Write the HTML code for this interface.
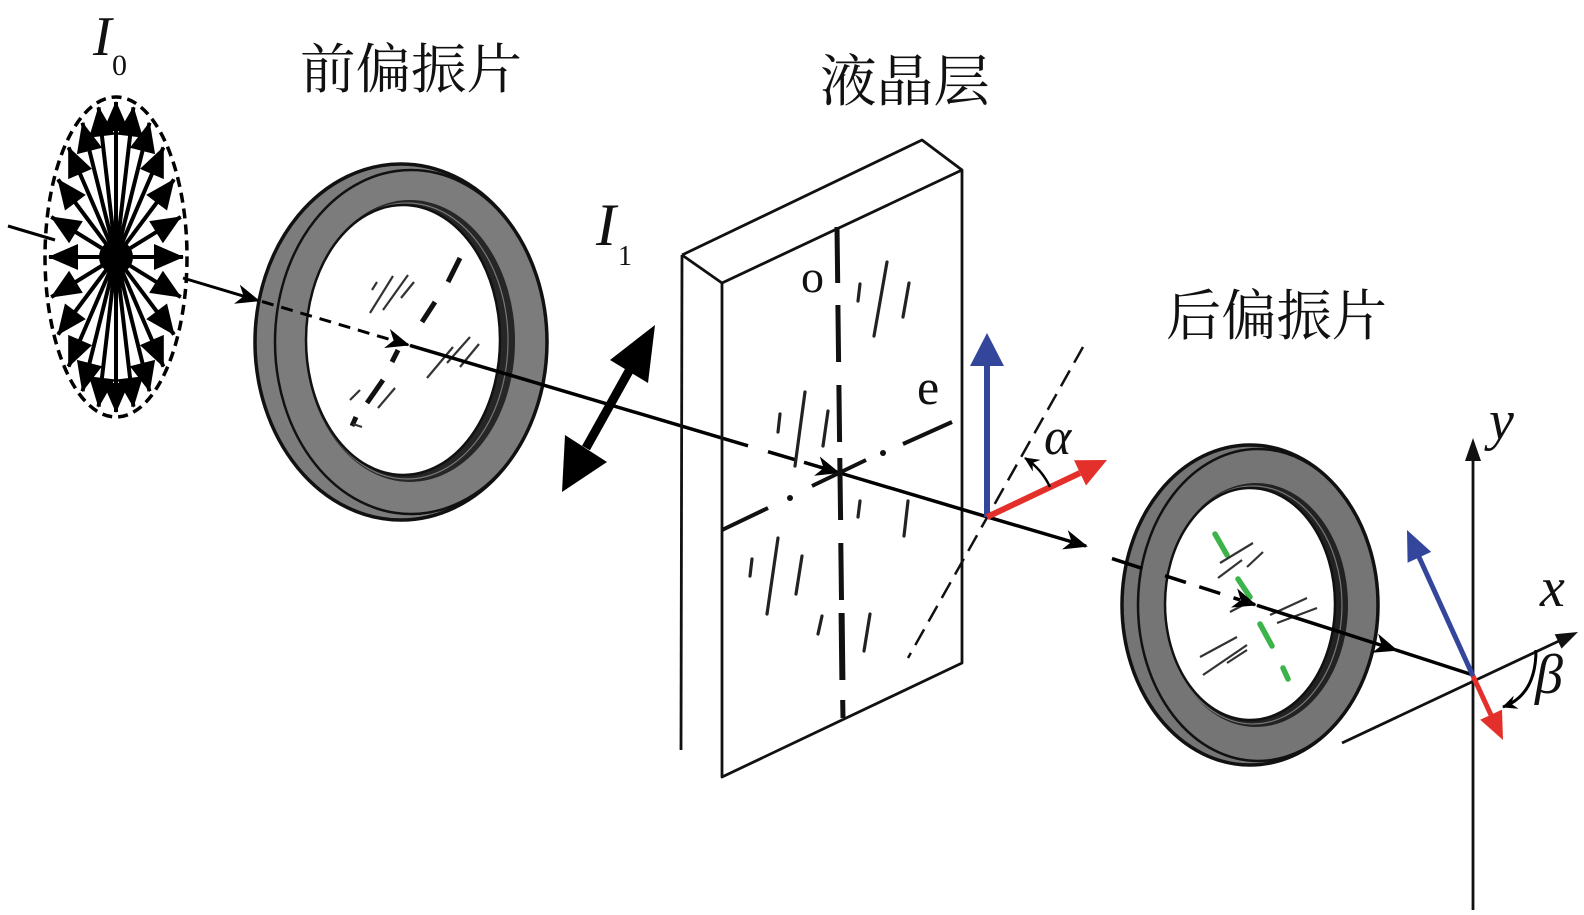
<!DOCTYPE html>
<html><head><meta charset="utf-8"><style>
html,body{margin:0;padding:0;background:#fff;}
svg{display:block;}
.cjk{font-family:"Liberation Serif","Noto Serif CJK SC","Noto Sans CJK SC",serif;fill:#111;}
.it{font-family:"Liberation Serif",serif;font-style:italic;fill:#111;}
.rm{font-family:"Liberation Serif",serif;fill:#111;}
.b{stroke:#000;stroke-width:4;marker-end:url(#bh);}
</style></head><body>
<svg width="1584" height="915" viewBox="0 0 1584 915" xmlns="http://www.w3.org/2000/svg">
<defs>
<marker id="bh" markerUnits="userSpaceOnUse" markerWidth="40" markerHeight="40" refX="0" refY="0" orient="auto" style="overflow:visible"><path d="M1,0 L-29,-13 L-29,13 Z" fill="#000"/></marker>
<marker id="ah" markerUnits="userSpaceOnUse" markerWidth="40" markerHeight="40" refX="0" refY="0" orient="auto" style="overflow:visible"><path d="M2,0 L-22,-10 L-15,0 L-22,10 Z" fill="#000"/></marker>
<marker id="sh" markerUnits="userSpaceOnUse" markerWidth="30" markerHeight="30" refX="0" refY="0" orient="auto" style="overflow:visible"><path d="M1,0 L-14,-7 L-9,0 L-14,7 Z" fill="#000"/></marker>
</defs>
<rect width="1584" height="915" fill="#fff"/>

<!-- Titles -->
<text class="cjk" x="300" y="88" font-size="54" textLength="222" lengthAdjust="spacingAndGlyphs">前偏振片</text>
<text class="cjk" x="820" y="101" font-size="56" textLength="170" lengthAdjust="spacingAndGlyphs">液晶层</text>
<text class="cjk" x="1166" y="335" font-size="55" textLength="221" lengthAdjust="spacingAndGlyphs">后偏振片</text>

<!-- I0 / I1 -->
<text class="it" x="93" y="55" font-size="56">I</text>
<text class="rm" x="112" y="75" font-size="30">0</text>
<text class="it" x="596" y="245" font-size="60">I</text>
<text class="rm" x="618" y="265" font-size="28">1</text>

<!-- incoming beam -->
<line x1="8" y1="226" x2="55" y2="240" stroke="#000" stroke-width="3"/>
<line x1="183" y1="278" x2="258" y2="300.5" stroke="#000" stroke-width="3" marker-end="url(#ah)"/>

<!-- Burst -->
<ellipse cx="116" cy="257" rx="71" ry="160" fill="none" stroke="#000" stroke-width="3.5" stroke-dasharray="10 6"/>
<g>
<line class="b" x1="116" y1="257" x2="183" y2="257"/>
<line class="b" x1="116" y1="257" x2="180.7" y2="297.1"/>
<line class="b" x1="116" y1="257" x2="174" y2="334.5"/>
<line class="b" x1="116" y1="257" x2="163.4" y2="366.6"/>
<line class="b" x1="116" y1="257" x2="149.5" y2="391.2"/>
<line class="b" x1="116" y1="257" x2="133.4" y2="406.7"/>
<line class="b" x1="116" y1="257" x2="116" y2="412"/>
<line class="b" x1="116" y1="257" x2="98.6" y2="406.7"/>
<line class="b" x1="116" y1="257" x2="82.5" y2="391.2"/>
<line class="b" x1="116" y1="257" x2="68.6" y2="366.6"/>
<line class="b" x1="116" y1="257" x2="58" y2="334.5"/>
<line class="b" x1="116" y1="257" x2="51.3" y2="297.1"/>
<line class="b" x1="116" y1="257" x2="49" y2="257"/>
<line class="b" x1="116" y1="257" x2="51.3" y2="216.9"/>
<line class="b" x1="116" y1="257" x2="58" y2="179.5"/>
<line class="b" x1="116" y1="257" x2="68.6" y2="147.4"/>
<line class="b" x1="116" y1="257" x2="82.5" y2="122.8"/>
<line class="b" x1="116" y1="257" x2="98.6" y2="107.3"/>
<line class="b" x1="116" y1="257" x2="116" y2="102"/>
<line class="b" x1="116" y1="257" x2="133.4" y2="107.3"/>
<line class="b" x1="116" y1="257" x2="149.5" y2="122.8"/>
<line class="b" x1="116" y1="257" x2="163.4" y2="147.4"/>
<line class="b" x1="116" y1="257" x2="174" y2="179.5"/>
<line class="b" x1="116" y1="257" x2="180.7" y2="216.9"/>
</g>
<circle cx="116" cy="257" r="17" fill="#000"/>

<!-- Front polarizer ring -->
<ellipse cx="401" cy="342" rx="146" ry="178" fill="#7c7c7c" stroke="#111" stroke-width="3.5"/>
<ellipse cx="411" cy="342" rx="136" ry="172" fill="none" stroke="#111" stroke-width="2.5"/>
<ellipse cx="410" cy="341" rx="105" ry="141" fill="#262626"/>
<ellipse cx="407" cy="341" rx="101" ry="138" fill="none" stroke="#777" stroke-width="1.2"/>
<ellipse cx="403" cy="340" rx="97" ry="135" fill="#fff" stroke="#111" stroke-width="2.5"/>

<!-- front polarizer interior: axis + slashes -->
<g stroke="#111" stroke-width="5" stroke-linecap="butt">
<line x1="460" y1="258" x2="448" y2="282"/>
<line x1="435" y1="302" x2="422" y2="322"/>
<line x1="398" y1="350" x2="392" y2="362"/>
<line x1="383" y1="380" x2="367" y2="403"/>
<line x1="356" y1="417" x2="352" y2="426"/>
</g>
<g stroke="#333" stroke-width="2.2">
<line x1="370" y1="313" x2="393" y2="276"/>
<line x1="383" y1="310" x2="408" y2="275"/>
<line x1="372" y1="290" x2="377" y2="282"/>
<line x1="401" y1="298" x2="414" y2="282"/>
<line x1="427" y1="378" x2="453" y2="347"/>
<line x1="447" y1="363" x2="470" y2="337"/>
<line x1="460" y1="367" x2="479" y2="344"/>
<line x1="350" y1="400" x2="360" y2="390"/>
<line x1="378" y1="408" x2="395" y2="388"/>
<line x1="353" y1="424" x2="362" y2="427"/>
</g>

<!-- beam through front polarizer (dashed) -->
<line x1="262" y1="301.5" x2="395" y2="341" stroke="#000" stroke-width="3" stroke-dasharray="12 8"/>
<line x1="396" y1="341.2" x2="408" y2="344.8" stroke="#000" stroke-width="3" marker-end="url(#ah)"/>
<!-- beam to LC -->
<line x1="410" y1="345.4" x2="748" y2="445.8" stroke="#000" stroke-width="3.5"/>

<!-- double arrow (linear polarization) -->
<line x1="586" y1="448" x2="629" y2="371" stroke="#000" stroke-width="9"/>
<polygon points="655,325 610,360 648,383" fill="#000"/>
<polygon points="562,492 565,435 607,462" fill="#000"/>

<!-- LC box -->
<g stroke="#111" stroke-width="2.8" fill="none" stroke-linejoin="round">
<line x1="682" y1="255" x2="681" y2="750"/>
<polyline points="682,255 922,140 962,170"/>
<line x1="682" y1="255" x2="722" y2="283"/>
<polygon points="722,283 962,170 962,663 722,777"/>
</g>

<!-- beam inside LC -->
<line x1="768" y1="451.7" x2="795" y2="459.7" stroke="#000" stroke-width="3.5"/>
<line x1="804" y1="462.3" x2="838" y2="472.4" stroke="#000" stroke-width="3.5" marker-end="url(#ah)"/>
<line x1="840" y1="473" x2="987" y2="516.8" stroke="#000" stroke-width="3.5"/>
<line x1="987" y1="516.8" x2="1086" y2="546" stroke="#000" stroke-width="3.5" marker-end="url(#ah)"/>

<!-- o axis (vertical) -->
<g stroke="#111" stroke-width="5">
<line x1="837" y1="227" x2="837.7" y2="283"/>
<line x1="837.9" y1="305" x2="838.6" y2="362"/>
<line x1="838.9" y1="385" x2="839.6" y2="442"/>
<line x1="839.8" y1="458" x2="840.6" y2="520"/>
<line x1="840.8" y1="543" x2="841.5" y2="600"/>
<line x1="841.6" y1="613" x2="842.4" y2="680" stroke-width="6"/>
<line x1="842.7" y1="700" x2="843" y2="718"/>
</g>
<!-- e axis -->
<g stroke="#111" stroke-width="4">
<line x1="722" y1="530" x2="768" y2="508"/>
<line x1="812" y1="486" x2="866" y2="460"/>
<line x1="903" y1="444" x2="952" y2="422"/>
</g>
<circle cx="790" cy="498" r="3" fill="#111"/>
<circle cx="883" cy="453" r="3" fill="#111"/>

<!-- LC molecules -->
<g stroke="#222" stroke-width="3.2" stroke-linecap="round">
<line x1="860" y1="284" x2="858" y2="301"/>
<line x1="887" y1="262" x2="874" y2="336"/>
<line x1="909" y1="283" x2="903" y2="317"/>
<line x1="805" y1="392" x2="795" y2="466"/>
<line x1="780" y1="414" x2="778" y2="432"/>
<line x1="828" y1="411" x2="823" y2="446"/>
<line x1="860" y1="501" x2="858" y2="517"/>
<line x1="908" y1="501" x2="904" y2="536"/>
<line x1="778" y1="538" x2="767" y2="614"/>
<line x1="752" y1="559" x2="750" y2="576"/>
<line x1="802" y1="556" x2="796" y2="594"/>
<line x1="822" y1="616" x2="818" y2="634"/>
<line x1="870" y1="614" x2="864" y2="651"/>
</g>

<text class="rm" x="801" y="292" font-size="46">o</text>
<text class="rm" x="917" y="404" font-size="50">e</text>

<!-- alpha dashed line -->
<line x1="1083" y1="347" x2="908" y2="658" stroke="#111" stroke-width="2.5" stroke-dasharray="18 9"/>

<!-- blue arrow 1 -->
<line x1="987" y1="517" x2="987" y2="362" stroke="#34469b" stroke-width="6"/>
<polygon points="987,333 970,366 1004,366" fill="#34469b"/>
<!-- red arrow 1 -->
<line x1="987" y1="517" x2="1080" y2="473" stroke="#e3302b" stroke-width="6"/>
<polygon points="1107,460 1086,485.5 1074,460.3" fill="#e3302b"/>
<!-- alpha arc -->
<path d="M1050,487 A70,70 0 0,0 1025,458" fill="none" stroke="#000" stroke-width="2.5" marker-end="url(#sh)"/>
<text class="it" x="1044" y="454" font-size="52">α</text>

<!-- Rear polarizer ring -->
<ellipse cx="1250" cy="605" rx="128" ry="160" fill="#757575" stroke="#111" stroke-width="3.5"/>
<ellipse cx="1258" cy="605" rx="120" ry="156" fill="none" stroke="#111" stroke-width="2.5"/>
<ellipse cx="1256" cy="605" rx="92" ry="122" fill="#222"/>
<ellipse cx="1253" cy="605" rx="89" ry="119" fill="none" stroke="#777" stroke-width="1.2"/>
<ellipse cx="1250" cy="604" rx="85" ry="116" fill="#fff" stroke="#111" stroke-width="2.5"/>

<!-- green axis -->
<g stroke="#3cb44a" stroke-width="5.5" stroke-linecap="round">
<line x1="1215" y1="534" x2="1227" y2="555"/>
<line x1="1238" y1="579" x2="1250" y2="597"/>
<line x1="1260" y1="624" x2="1272" y2="646"/>
<line x1="1283" y1="668" x2="1288" y2="679"/>
</g>
<!-- rear slashes -->
<g stroke="#333" stroke-width="2.2">
<line x1="1220" y1="563" x2="1253" y2="543"/>
<line x1="1218" y1="578" x2="1242" y2="560"/>
<line x1="1247" y1="567" x2="1263" y2="552"/>
<line x1="1230" y1="612" x2="1247" y2="603"/>
<line x1="1270" y1="615" x2="1307" y2="598"/>
<line x1="1277" y1="623" x2="1317" y2="608"/>
<line x1="1200" y1="657" x2="1237" y2="637"/>
<line x1="1203" y1="675" x2="1247" y2="645"/>
<line x1="1227" y1="663" x2="1247" y2="650"/>
</g>

<!-- beam 2 -->
<line x1="1112" y1="558.6" x2="1142" y2="568.3" stroke="#000" stroke-width="3.5"/>
<line x1="1165" y1="575.7" x2="1240" y2="599.9" stroke="#000" stroke-width="3.5" stroke-dasharray="22 14"/>
<line x1="1242" y1="600.5" x2="1255" y2="604.7" stroke="#000" stroke-width="3.5" marker-end="url(#ah)"/>
<line x1="1257" y1="605.3" x2="1396" y2="650" stroke="#000" stroke-width="3.5" marker-end="url(#ah)"/>
<line x1="1396" y1="650" x2="1473" y2="675" stroke="#000" stroke-width="3.5"/>

<!-- axes -->
<line x1="1473" y1="910" x2="1473" y2="456" stroke="#111" stroke-width="2.8"/>
<polygon points="1473,438 1465,461 1481,461" fill="#111"/>
<line x1="1342" y1="743" x2="1560" y2="640.5" stroke="#111" stroke-width="2.8"/>
<polygon points="1578,632 1561.5,648.6 1554.7,634.2" fill="#111"/>

<!-- blue arrow 2 -->
<line x1="1473" y1="676" x2="1419" y2="557" stroke="#34469b" stroke-width="5"/>
<polygon points="1407,530 1431.2,551.9 1407.6,562.7" fill="#34469b"/>
<!-- red arrow 2 -->
<line x1="1473" y1="676" x2="1491" y2="715" stroke="#e3302b" stroke-width="5"/>
<polygon points="1503,740 1502,709.6 1480.2,719.8" fill="#e3302b"/>

<!-- beta arc -->
<path d="M1536,650 Q1536,695 1503,707" fill="none" stroke="#000" stroke-width="3" marker-end="url(#sh)"/>
<text class="it" x="1535" y="693" font-size="56">β</text>
<text class="it" x="1540" y="606" font-size="56">x</text>
<text class="it" x="1489" y="439" font-size="56">y</text>
</svg>
</body></html>
